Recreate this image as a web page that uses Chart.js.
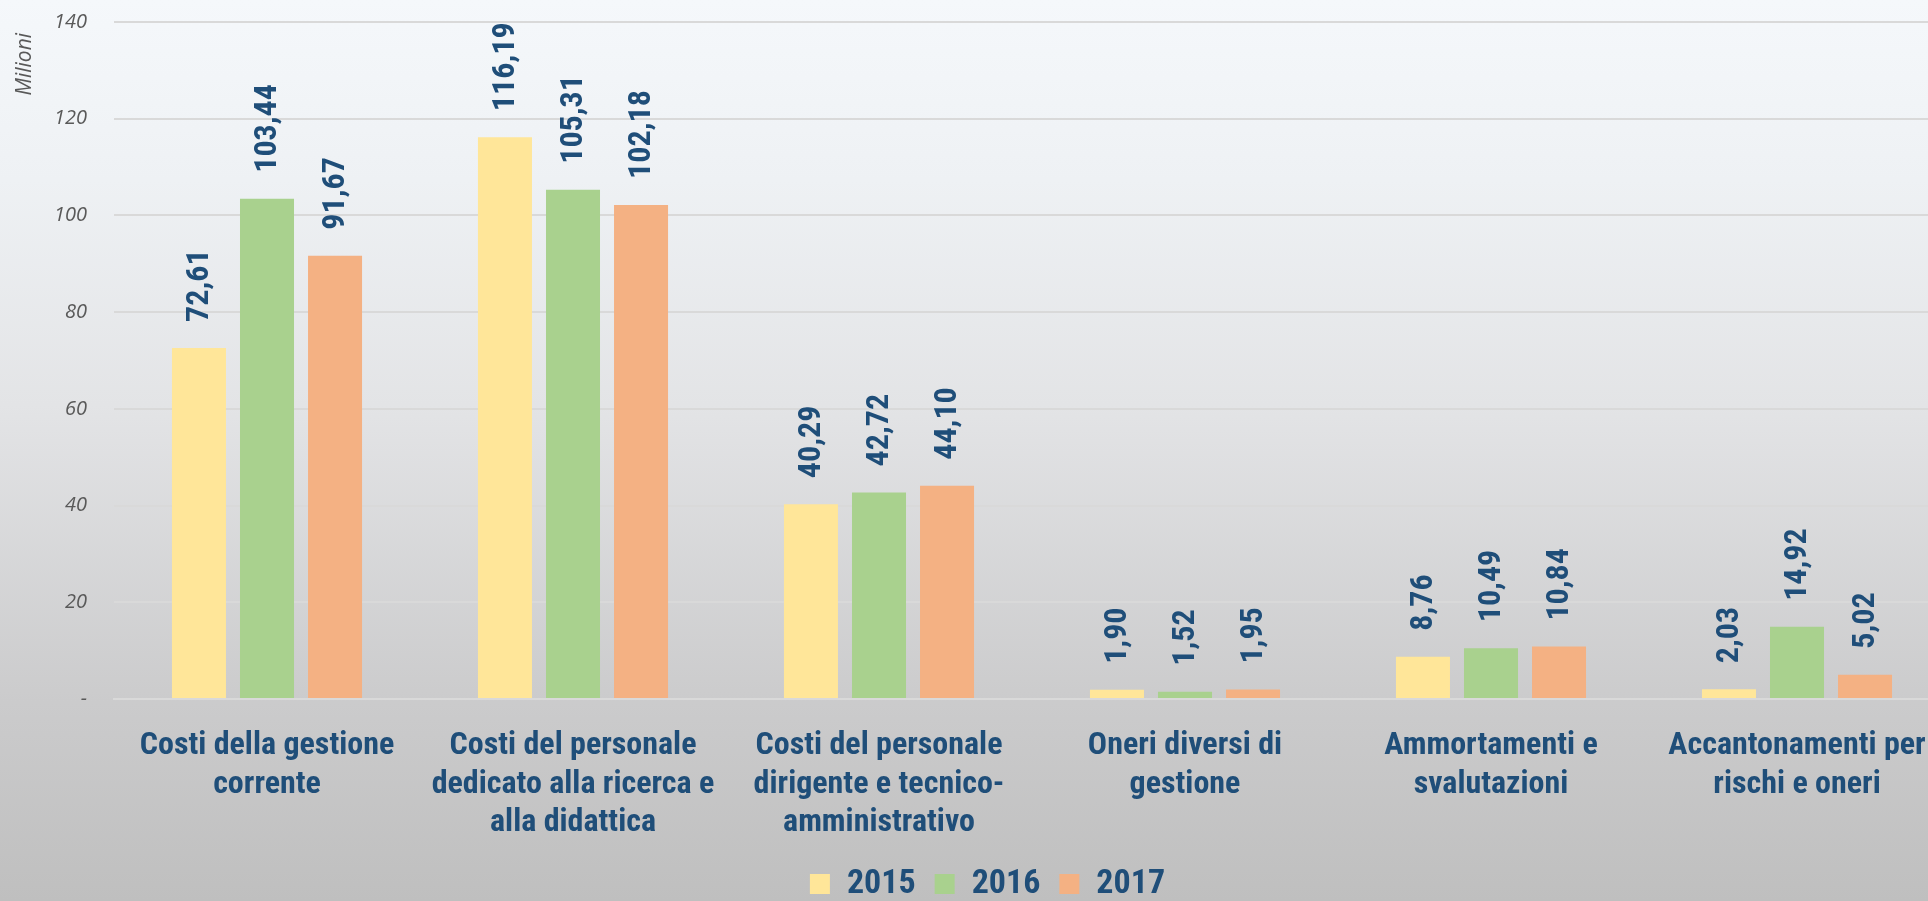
<!DOCTYPE html>
<html>
<head>
<meta charset="utf-8">
<script src="https://cdn.jsdelivr.net/npm/chart.js@4.4.1/dist/chart.umd.min.js"></script>
<style>
  html, body { margin: 0; padding: 0; overflow: hidden; width: 1928px; height: 901px; }
  #wrap { width: 1950px; height: 901px;
    background: linear-gradient(to bottom, #f5f8fb 0%, #eef1f4 20%, #e3e4e6 45%, #cbcbcc 78%, #bfbfbf 100%); }
  canvas { display: block; }
</style>
</head>
<body>
<div id="wrap"><canvas id="c" width="1950" height="901"></canvas></div>
<script>
const categories = [
  ["Costi della gestione", "corrente"],
  ["Costi del personale", "dedicato alla ricerca e", "alla didattica"],
  ["Costi del personale", "dirigente e tecnico-", "amministrativo"],
  ["Oneri diversi di", "gestione"],
  ["Ammortamenti e", "svalutazioni"],
  ["Accantonamenti per", "rischi e oneri"]
];
const seriesNames = ["2015", "2016", "2017"];
const values2015 = [72.61, 116.19, 40.29, 1.90, 8.76, 2.03];
const values2016 = [103.44, 105.31, 42.72, 1.52, 10.49, 14.92];
const values2017 = [91.67, 102.18, 44.10, 1.95, 10.84, 5.02];
const yTicks = [0, 20, 40, 60, 80, 100, 120, 140];

const NARROW = "'Roboto Condensed', 'Liberation Sans Narrow', sans-serif";
const BLUE = '#1f4e79';

const dataLabels = {
  id: 'dataLabels',
  afterDatasetsDraw(chart) {
    const ctx = chart.ctx;
    ctx.save();
    ctx.fillStyle = BLUE;
    ctx.font = 'bold 32px ' + NARROW;
    ctx.textAlign = 'left';
    ctx.textBaseline = 'middle';
    chart.data.datasets.forEach((ds, di) => {
      const meta = chart.getDatasetMeta(di);
      meta.data.forEach((el, i) => {
        const v = ds.data[i];
        const txt = v.toFixed(2).replace('.', ',');
        ctx.save();
        ctx.translate(el.x + 1, el.y - 26);
        ctx.rotate(-Math.PI / 2);
        ctx.fillText(txt, 0, 0);
        ctx.restore();
      });
    });
    ctx.restore();
  }
};

new Chart(document.getElementById('c'), {
  type: 'bar',
  data: {
    labels: categories,
    datasets: [
      { label: seriesNames[0], data: values2015, backgroundColor: '#ffe699' },
      { label: seriesNames[1], data: values2016, backgroundColor: '#a9d18e' },
      { label: seriesNames[2], data: values2017, backgroundColor: '#f4b183' }
    ]
  },
  options: {
    responsive: false,
    animation: false,
    devicePixelRatio: 1,
    categoryPercentage: 0.667,
    barPercentage: 0.794,
    layout: { padding: { top: 22, left: 25, right: 0, bottom: -10 } },
    plugins: {
      tooltip: { enabled: false },
      legend: {
        position: 'bottom',
        labels: {
          boxWidth: 20, boxHeight: 20, padding: 19,
          color: BLUE,
          font: { family: NARROW, size: 34, weight: 'bold' }
        }
      }
    },
    scales: {
      x: {
        grid: { display: false },
        border: { display: true, color: '#d9d9d9', width: 2 },
        ticks: {
          color: BLUE, padding: 20, maxRotation: 0, autoSkip: false,
          font: { family: NARROW, size: 32, weight: 'bold', lineHeight: 1.2 }
        },
        afterFit(scale) { scale.height = 149; }
      },
      y: {
        min: 0, max: 140,
        afterBuildTicks(scale) { scale.ticks = yTicks.map(v => ({ value: v })); },
        grid: { color: '#d9d9d9', lineWidth: 2, drawTicks: true, tickLength: 27, tickColor: 'rgba(0,0,0,0)' },
        border: { display: false },
        ticks: {
          padding: 0, color: '#595959',
          font: { family: "'Open Sans', sans-serif", size: 20, style: 'italic' },
          callback: v => v === 0 ? '-' : String(v)
        },
        title: {
          display: true, text: 'Milioni  ', align: 'end', color: '#595959',
          font: { family: "'Open Sans', sans-serif", size: 21, style: 'italic', lineHeight: 1.2 },
          padding: { top: -12.1, bottom: 0 }
        },
        afterFit(scale) { scale.width = 89; }
      }
    }
  },
  plugins: [dataLabels]
});
</script>
</body>
</html>
